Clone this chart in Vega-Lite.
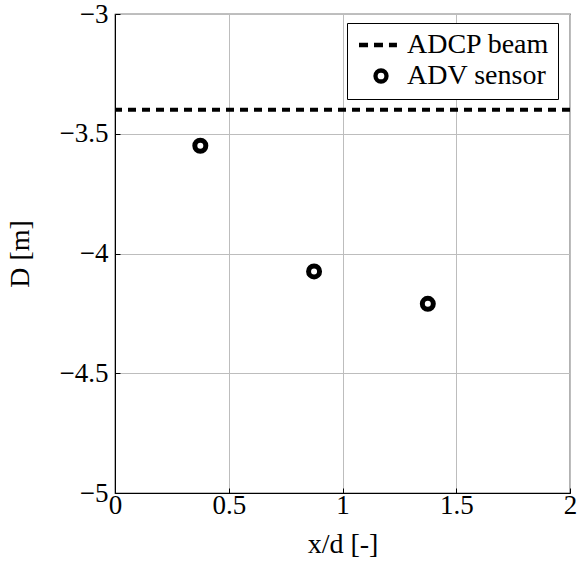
{
  "$schema": "https://vega.github.io/schema/vega-lite/v6.json",
  "width": 455,
  "height": 479,
  "autosize": {"type": "none"},
  "padding": {"left": 115, "top": 14, "right": 7, "bottom": 73},
  "background": "white",
  "config": {
    "font": "Liberation Serif",
    "view": {"stroke": "black", "strokeWidth": 1.2},
    "axis": {
      "labelFont": "Liberation Serif",
      "titleFont": "Liberation Serif",
      "labelFontSize": 27,
      "titleFontSize": 28,
      "titleFontWeight": "normal",
      "labelColor": "black",
      "titleColor": "black",
      "domainColor": "black",
      "tickColor": "black",
      "gridColor": "#bdbdbd",
      "gridWidth": 1,
      "tickSize": -5,
      "labelFlush": false,
      "labelOverlap": false
    },
    "legend": {
      "labelFont": "Liberation Serif",
      "labelFontSize": 28,
      "labelColor": "black"
    }
  },
  "layer": [
    {
      "data": {"values": [{"series": "ADCP beam", "D": -3.4}]},
      "mark": {"type": "rule", "color": "black", "strokeWidth": 4, "strokeDash": [8, 6]},
      "encoding": {
        "y": {"field": "D", "type": "quantitative"}
      }
    },
    {
      "data": {"values": [
        {"series": "ADV sensor", "xd": 0.375, "D": -3.55},
        {"series": "ADV sensor", "xd": 0.875, "D": -4.075},
        {"series": "ADV sensor", "xd": 1.375, "D": -4.21}
      ]},
      "mark": {"type": "point", "filled": false, "color": "black", "strokeWidth": 5, "size": 121, "opacity": 1},
      "encoding": {
        "x": {
          "field": "xd", "type": "quantitative",
          "scale": {"domain": [0, 2], "nice": false, "zero": false},
          "axis": {"title": "x/d [-]", "values": [0, 0.5, 1, 1.5, 2], "format": "~g", "labelPadding": 4, "titlePadding": 12}
        },
        "y": {
          "field": "D", "type": "quantitative",
          "scale": {"domain": [-5, -3], "nice": false, "zero": false},
          "axis": {"title": "D [m]", "values": [-5, -4.5, -4, -3.5, -3], "format": "~g", "labelPadding": 12, "titlePadding": 25}
        },
        "shape": {
          "field": "series", "type": "nominal",
          "scale": {"domain": ["ADCP beam", "ADV sensor"], "range": ["M-4,0H-2.36M-1.27,0H0.36M1.45,0H2.9", "circle"]},
          "legend": {
            "title": null,
            "orient": "none",
            "legendX": 232,
            "legendY": 9,
            "strokeColor": "black",
            "fillColor": "white",
            "padding": 8,
            "symbolStrokeColor": "black",
            "symbolStrokeWidth": 4.3,
            "symbolFillColor": "white",
            "symbolSize": 121,
            "symbolOffset": 12,
            "labelOffset": 12,
            "rowPadding": 2
          }
        }
      }
    }
  ]
}
